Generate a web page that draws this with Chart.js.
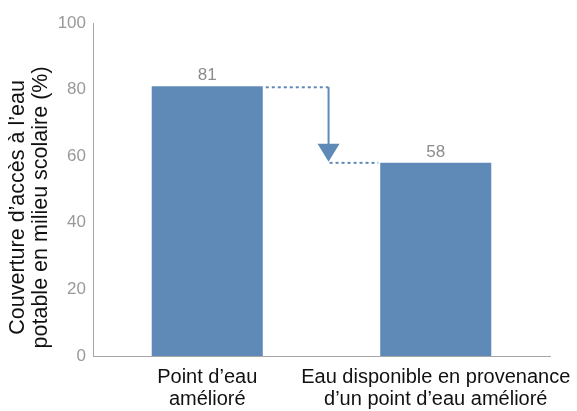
<!DOCTYPE html>
<html>
<head>
<meta charset="utf-8">
<script src="https://cdn.jsdelivr.net/npm/chart.js@4/dist/chart.umd.min.js"></script>
<style>
  html, body { margin: 0; padding: 0; background: #fff; }
  #wrap { width: 577px; height: 411px; }
</style>
</head>
<body>
<div id="wrap"><canvas id="chart"></canvas></div>
<script>
const categories = [['Point d\u2019eau', 'amélioré'], ['Eau disponible en provenance', 'd\u2019un point d\u2019eau amélioré']];
const values = [81, 58];
const yTicks = [0, 20, 40, 60, 80, 100];

const barColor = '#5f8ab7';
const font = "'Liberation Sans', Arial, sans-serif";

// labels above the bars + the dotted arrow between them
const extras = {
  id: 'extras',
  afterDatasetsDraw(chart) {
    const ctx = chart.ctx;
    const meta = chart.getDatasetMeta(0);
    const y = chart.scales.y;
    ctx.save();
    ctx.font = '17px ' + font;
    ctx.fillStyle = '#8c8c8c';
    ctx.textAlign = 'center';
    ctx.textBaseline = 'alphabetic';
    meta.data.forEach((bar, i) => {
      ctx.fillText(values[i], bar.x, bar.y - 6);
    });

    const b1 = meta.data[0], b2 = meta.data[1];
    const y1 = y.getPixelForValue(values[0]);
    const y2 = y.getPixelForValue(values[1]);
    const x1 = b1.x + b1.width / 2;
    const x3 = b2.x - b2.width / 2;
    const xm = x1 + (x3 - x1) * 0.56;

    ctx.strokeStyle = barColor;
    ctx.fillStyle = barColor;
    ctx.lineWidth = 2;
    ctx.setLineDash([3, 3]);
    ctx.beginPath();
    ctx.moveTo(x1 + 3, y1 + 1);
    ctx.lineTo(xm, y1 + 1);
    ctx.stroke();
    ctx.beginPath();
    ctx.moveTo(xm + 1, y2);
    ctx.lineTo(x3 - 2, y2);
    ctx.stroke();
    ctx.setLineDash([]);
    ctx.beginPath();
    ctx.moveTo(xm, y1 + 1);
    ctx.lineTo(xm, y2 - 15);
    ctx.stroke();
    ctx.beginPath();
    ctx.moveTo(xm - 11, y2 - 19);
    ctx.lineTo(xm + 11, y2 - 19);
    ctx.lineTo(xm, y2 - 1);
    ctx.closePath();
    ctx.fill();
    ctx.restore();
  }
};

// trailing spaces nudge the rotated title a little lower, as in the original
const pad = '\u00a0'.repeat(6);

new Chart(document.getElementById('chart'), {
  type: 'bar',
  data: {
    labels: categories,
    datasets: [{
      data: values,
      backgroundColor: barColor,
      categoryPercentage: 1,
      barPercentage: 0.486
    }]
  },
  options: {
    responsive: true,
    maintainAspectRatio: false,
    animation: false,
    layout: { padding: { top: 23, right: 27, left: 0, bottom: 0 } },
    plugins: { legend: { display: false }, tooltip: { enabled: false } },
    scales: {
      x: {
        grid: { display: false, drawTicks: false },
        border: { color: '#a6a6a6', width: 1 },
        ticks: { color: '#111', font: { family: font, size: 20, lineHeight: 1.08 }, padding: 11, maxRotation: 0, autoSkip: false },
        afterFit(scale) {
          scale.height = 55;
          scale.paddingLeft = 0;
          scale.paddingRight = 0;
        }
      },
      y: {
        min: 0,
        max: 100,
        afterBuildTicks(scale) { scale.ticks = yTicks.map(v => ({ value: v })); },
        grid: { display: false, drawTicks: false },
        border: { color: '#a6a6a6', width: 1 },
        ticks: { color: '#999', font: { family: font, size: 17 }, padding: 7 },
        title: {
          display: true,
          text: ['Couverture d\u2019accès à l\u2019eau' + pad, 'potable en milieu scolaire (%)' + pad],
          color: '#111',
          font: { family: font, size: 21.5, lineHeight: 1.07 },
          padding: { top: 7, bottom: 0 }
        },
        afterFit(scale) {
          scale.width = 93;
          scale.paddingTop = 0;
          scale.paddingBottom = 0;
        }
      }
    }
  },
  plugins: [extras]
});
</script>
</body>
</html>
